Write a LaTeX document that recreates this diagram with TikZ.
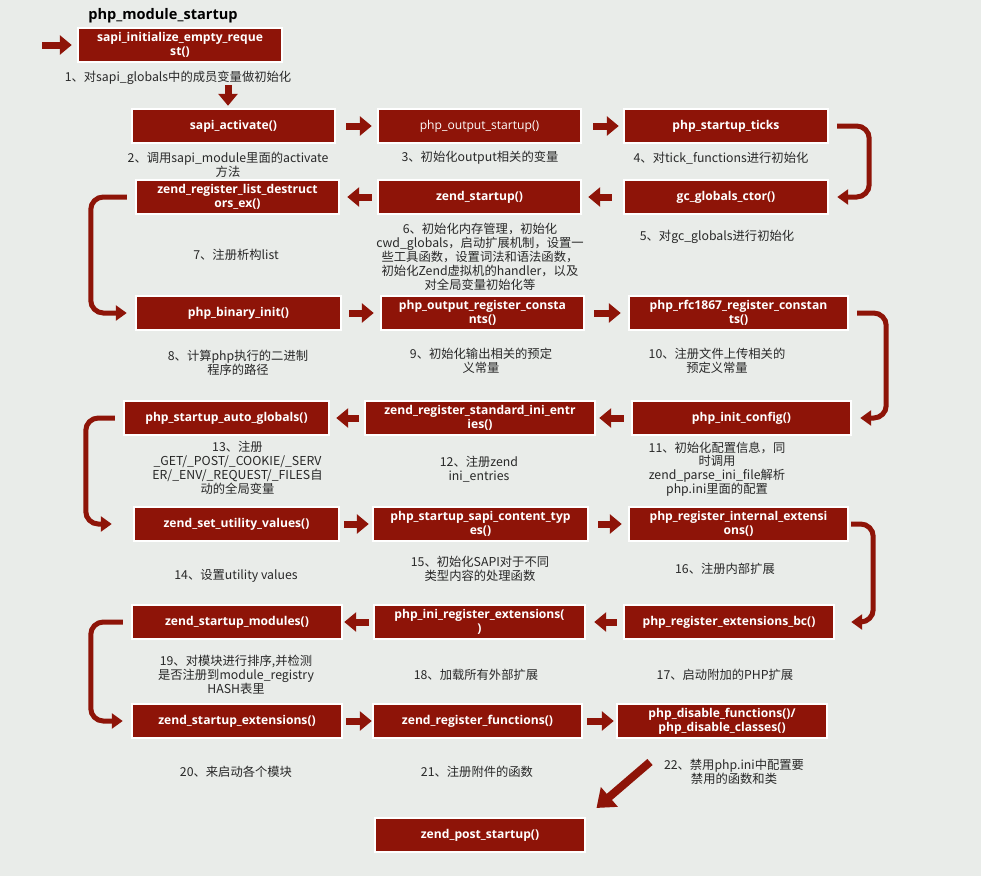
\documentclass[tikz,border=0pt]{standalone}
\usepackage{fontspec}
\newfontfamily\cjk{Noto Sans CJK SC}
\newfontfamily\boxfont{Open Sans}
\usetikzlibrary{arrows.meta}
\definecolor{boxred}{RGB}{142,20,8}
\definecolor{bg}{RGB}{233,236,233}
\definecolor{txt}{RGB}{40,40,40}

\begin{document}
\begin{tikzpicture}[x=0.02cm,y=-0.02cm,
  fn/.style={fill=boxred,draw=white,line width=1.4pt,text=white,
    minimum width=#1*0.02cm,minimum height=0.68cm,inner sep=0pt,align=center,
    font=\boxfont\bfseries\fontsize{6.9}{7.8}\selectfont},
  fn/.default=204,
  note/.style={align=center,text=txt,inner sep=1pt,
    font=\cjk\fontsize{7}{7.9}\selectfont},
  go/.style={draw=boxred,line width=0.14cm,
    -{Triangle[width=0.38cm,length=0.24cm]}},
  gap/.style args={#1/#2}{shorten <=#1*0.02cm,shorten >=#2*0.02cm},
  turn/.style={draw=boxred,line width=0.1cm,rounded corners=0.25cm,
    -{Triangle[width=0.3cm,length=0.22cm]},
    shorten <=0.16cm,shorten >=0.16cm}]
  \fill[bg] (0,0) rectangle (981,876);
  \useasboundingbox (0,0) rectangle (981,876);

  \node[text=black,inner sep=0pt,font=\boxfont\bfseries\fontsize{8.3}{9}\selectfont]
    (title) at (163,16) {php\_module\_startup};
  \node[fn] (init) at (180,45) {sapi\_initialize\_empty\_reque\\st()};
  \node[note] (l1) at (178,78) {1、对sapi\_globals中的成员变量做初始化};

  \node[fn=203] (activate) at (233.5,126) {sapi\_activate()};
  \node[fn=203,font=\boxfont\fontsize{6.9}{7.8}\selectfont]
    (outstart) at (479.5,126) {php\_output\_startup()};
  \node[fn] (ticks) at (726,126) {php\_startup\_ticks};
  \node[note] (l2) at (228,165) {2、调用sapi\_module里面的activate\\方法};
  \node[note] (l3) at (480,158) {3、初始化output相关的变量};
  \node[note] (l4) at (721,158) {4、对tick\_functions进行初始化};

  \node[fn=203] (destruct) at (237.5,197) {zend\_register\_list\_destruct\\ors\_ex()};
  \node[fn=203] (zstartup) at (479.5,197) {zend\_startup()};
  \node[fn] (gcctor) at (726,197) {gc\_globals\_ctor()};
  \node[note] (l5) at (717,237) {5、对gc\_globals进行初始化};
  \node[note] (l6) at (480,257) {6、初始化内存管理，初始化\\cwd\_globals，启动扩展机制，设置一\\
    些工具函数，设置词法和语法函数，\\初始化Zend虚拟机的handler，以及\\对全局变量初始化等};
  \node[note] (l7) at (236,255) {7、注册析构list};

  \node[fn=205] (binary) at (238.5,313) {php\_binary\_init()};
  \node[fn=203] (outreg) at (482.5,313) {php\_output\_register\_consta\\nts()};
  \node[fn=219] (rfc) at (738.5,313) {php\_rfc1867\_register\_constan\\ts()};
  \node[note] (l8) at (238,363) {8、计算php执行的二进制\\程序的路径};
  \node[note] (l9) at (481,361) {9、初始化输出相关的预定\\义常量};
  \node[note] (l10) at (717,361) {10、注册文件上传相关的\\预定义常量};

  \node[fn=205] (autoglob) at (226.5,418) {php\_startup\_auto\_globals()};
  \node[fn=230] (stdini) at (480,418) {zend\_register\_standard\_ini\_entr\\ies()};
  \node[fn=219] (iniconf) at (741.5,418) {php\_init\_config()};
  \node[note] (l11) at (717,469) {11、初始化配置信息，同\\时调用\\zend\_parse\_ini\_file解析\\php.ini里面的配置};
  \node[note] (l12) at (479,469) {12、注册zend\\ini\_entries};
  \node[note] (l13) at (237.5,468) {13、注册\\\_GET/\_POST/\_COOKIE/\_SERV\\ER/\_ENV/\_REQUEST/\_FILES自\\动的全局变量};

  \node[fn=205] (utility) at (236.5,524) {zend\_set\_utility\_values()};
  \node[fn=215] (sapict) at (480.5,524) {php\_startup\_sapi\_content\_typ\\es()};
  \node[fn=219] (internal) at (738.5,524) {php\_register\_internal\_extensi\\ons()};
  \node[note] (l14) at (236,576) {14、设置utility values};
  \node[note] (l15) at (480,569) {15、初始化SAPI对于不同\\类型内容的处理函数};
  \node[note] (l16) at (725,569) {16、注册内部扩展};

  \node[fn=210] (modules) at (237,622) {zend\_startup\_modules()};
  \node[fn=211] (inireg) at (479.5,622) {php\_ini\_register\_extensions(\\)};
  \node[fn=210] (extbc) at (729,622) {php\_register\_extensions\_bc()};
  \node[note] (l17) at (725,675) {17、启动附加的PHP扩展};
  \node[note] (l18) at (476,675) {18、加载所有外部扩展};
  \node[note] (l19) at (236,675) {19、对模块进行排序,并检测\\是否注册到module\_registry\\HASH表里};

  \node[fn=210] (startext) at (237,721) {zend\_startup\_extensions()};
  \node[fn=209] (regfunc) at (477.5,721) {zend\_register\_functions()};
  \node[fn=210] (disable) at (722,721) {php\_disable\_functions()/\\php\_disable\_classes()};
  \node[note] (l20) at (236,772) {20、来启动各个模块};
  \node[note] (l21) at (477,772) {21、注册附件的函数};
  \node[note] (l22) at (734,772) {22、禁用php.ini中配置要\\禁用的函数和类};

  \node[fn=210] (post) at (480,835) {zend\_post\_startup()};

  \coordinate (in) at (42,45);
  \coordinate (down) at (228,85);
  \coordinate (d22) at (650,762);
  \draw[go,gap=0/5] (in) -- (init.west);
  \draw[go,gap=0/2] (down) -- (down |- activate.north);
  \draw[go,gap=10/5] (activate) -- (outstart);
  \draw[go,gap=11/4] (outstart) -- (ticks);
  \draw[turn] (ticks.east) -- ++(40,0) |- (gcctor.east);
  \draw[go,gap=11/6] (gcctor) -- (zstartup);
  \draw[go,gap=5/7] (zstartup) -- (destruct);
  \draw[turn] (destruct.west) -- ++(-44,0) |- (binary.west);
  \draw[go,gap=7/6] (binary) -- (outreg);
  \draw[go,gap=9/7] (outreg) -- (rfc);
  \draw[turn] (rfc.east) -- ++(37,0) |- (iniconf.east);
  \draw[go,gap=7/3] (iniconf) -- (stdini);
  \draw[go,gap=5/6] (stdini) -- (autoglob);
  \draw[turn,shorten >=0.42cm] (autoglob.west) -- ++(-37,0) |- (utility.west);
  \draw[go,gap=4/3] (utility) -- (sapict);
  \draw[go,gap=9/6] (sapict) -- (internal);
  \draw[turn,shorten <=0.04cm,shorten >=0.32cm] (internal.east) -- ++(24,0) |- (extbc.east);
  \draw[go,gap=6/8] (extbc) -- (inireg);
  \draw[go,gap=4/1] (inireg) -- (modules);
  \draw[turn] (modules.west) -- ++(-40,0) |- (startext.west);
  \draw[go,gap=3/0] (startext) -- (regfunc);
  \draw[go,gap=4/2] (regfunc) -- (disable);
  \draw[go,line width=0.16cm,-{Triangle[width=0.5cm,length=0.34cm]},
    gap=0/13.5] (d22) -- (post.north east);
\end{tikzpicture}
\end{document}
